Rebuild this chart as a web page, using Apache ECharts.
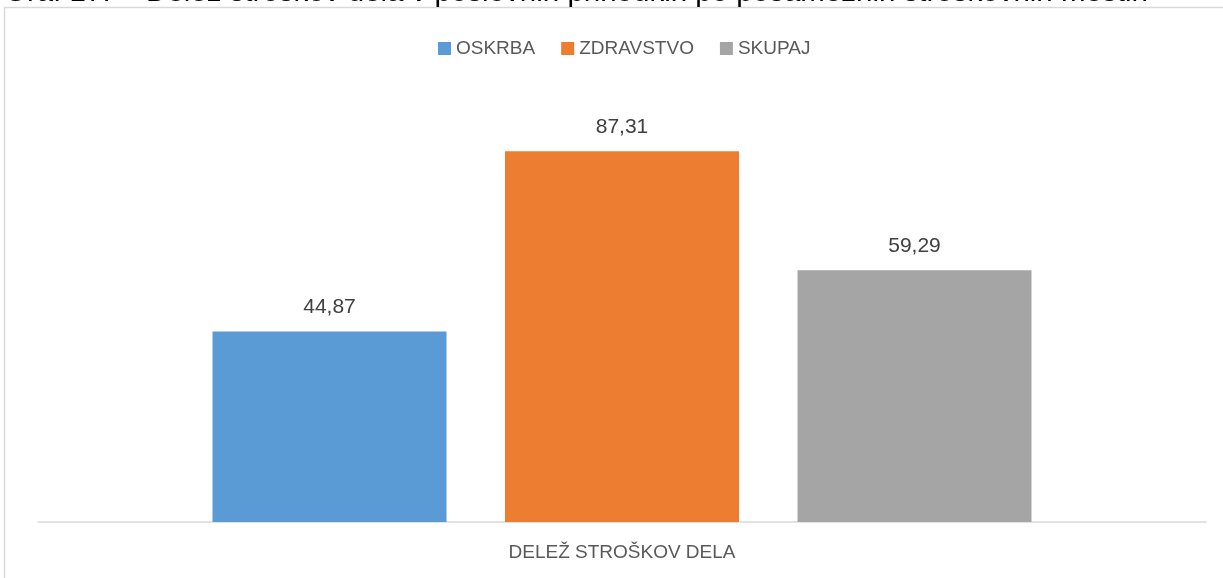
<!DOCTYPE html>
<html>
<head>
<meta charset="utf-8">
<script src="https://cdn.jsdelivr.net/npm/echarts@6/dist/echarts.min.js"></script>
<style>
html,body{margin:0;padding:0;background:#fff;}
#chart{width:1223px;height:578px;}
</style>
</head>
<body>
<div id="chart"></div>
<script>
const titleNumber = 'Graf 17:';
const titleText = 'Delež stroškov dela v poslovnih prihodkih po posameznih stroškovnih mestih';
const categories = ['DELEŽ STROŠKOV DELA'];
const seriesNames = ['OSKRBA', 'ZDRAVSTVO', 'SKUPAJ'];
const oskrba = [44.87];
const zdravstvo = [87.31];
const skupaj = [59.29];
const colors = ['#5b9bd5', '#ed7d31', '#a5a5a5'];

const FONT = 'Liberation Sans';
const seriesData = [oskrba, zdravstvo, skupaj];
const titleStyle = {fontFamily: FONT, fontSize: 29.5, fontWeight: 'normal', color: '#000'};

const chart = echarts.init(document.getElementById('chart'), null, {renderer: 'canvas'});
chart.setOption({
  animation: false,
  backgroundColor: '#fff',
  textStyle: {fontFamily: FONT},
  title: [
    {text: titleNumber, left: 4, top: -22, padding: 0, textStyle: titleStyle},
    {text: titleText, left: 146, top: -22, padding: 0, textStyle: titleStyle}
  ],
  graphic: [{
    type: 'rect',
    z: -1,
    shape: {x: 4.5, y: 7.5, width: 1400, height: 800},
    style: {fill: 'none', stroke: '#d9d9d9', lineWidth: 1.5}
  }],
  legend: {
    data: seriesNames,
    left: 438,
    top: 39,
    padding: 0,
    itemWidth: 13,
    itemHeight: 13,
    itemGap: 26,
    icon: 'rect',
    textStyle: {fontFamily: FONT, fontSize: 19, color: '#595959'}
  },
  grid: {left: 38, right: 17, top: 97.5, bottom: 56, containLabel: false},
  xAxis: {
    type: 'category',
    data: categories,
    axisLine: {lineStyle: {color: '#d9d9d9', width: 1.5}},
    axisTick: {show: false},
    axisLabel: {margin: 21, fontFamily: FONT, fontSize: 19, color: '#595959'}
  },
  yAxis: {
    type: 'value',
    min: 0,
    max: 100,
    show: false,
    splitLine: {show: false}
  },
  series: seriesNames.map((name, i) => ({
    name: name,
    type: 'bar',
    data: seriesData[i],
    barWidth: 234,
    barGap: '25%',
    itemStyle: {color: colors[i]},
    label: {
      show: true,
      position: 'top',
      distance: 14,
      fontFamily: FONT,
      fontSize: 21,
      color: '#404040',
      formatter: p => p.value.toFixed(2).replace('.', ',')
    }
  }))
});
</script>
</body>
</html>
